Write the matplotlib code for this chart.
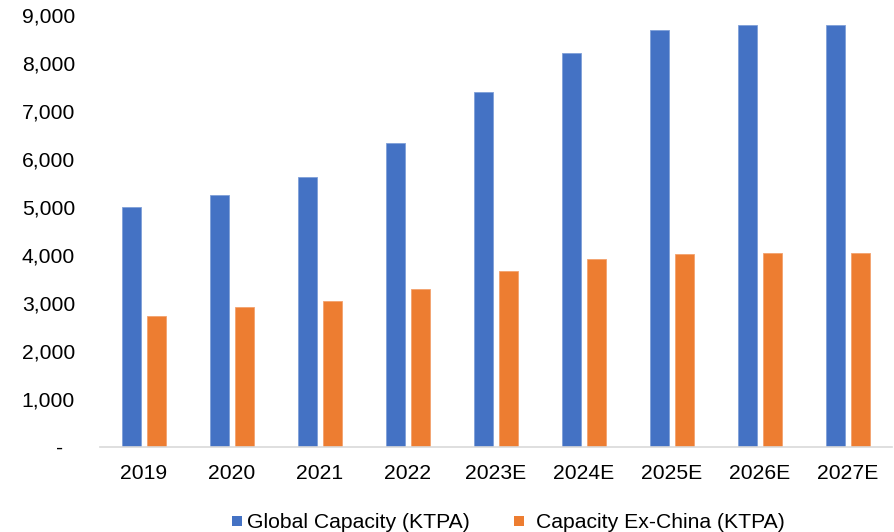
import matplotlib
matplotlib.use("Agg")
import matplotlib.pyplot as plt
from matplotlib.lines import Line2D
import numpy as np

plt.rcParams['font.family'] = ['Liberation Sans', 'DejaVu Sans']

categories = ["2019", "2020", "2021", "2022", "2023E", "2024E", "2025E", "2026E", "2027E"]
global_capacity = [5005, 5240, 5630, 6340, 7390, 8200, 8690, 8800, 8800]
ex_china_capacity = [2730, 2920, 3035, 3285, 3670, 3910, 4015, 4040, 4040]
y_ticks = [0, 1000, 2000, 3000, 4000, 5000, 6000, 7000, 8000, 9000]
y_tick_labels = ["-  ", "1,000", "2,000", "3,000", "4,000", "5,000", "6,000", "7,000", "8,000", "9,000"]
series_names = ["Global Capacity (KTPA)", "Capacity Ex-China (KTPA)"]

blue = "#4472C4"
orange = "#ED7D31"
FS = 15.2

fig = plt.figure(figsize=(8.94, 5.32), dpi=100)
ax = fig.add_axes([100 / 894, 1 - 447 / 532, 792 / 894, 432 / 532])

x = np.arange(len(categories))
w = 0.222
off = 0.143
ax.bar(x - off, global_capacity, width=w, color=blue, edgecolor="#7f9fd8", linewidth=0.6)
ax.bar(x + off, ex_china_capacity, width=w, color=orange, edgecolor="#f3a26e", linewidth=0.6)

ax.set_xlim(-0.5, len(categories) - 0.5)
ax.set_ylim(0, 9000)
ax.set_xticks(x)
ax.set_xticklabels(categories, fontsize=FS, color="black")
ax.set_yticks(y_ticks)
ax.set_yticklabels(y_tick_labels, fontsize=FS, color="black")
ax.tick_params(axis="both", length=0)
ax.tick_params(axis="y", pad=18)
ax.tick_params(axis="x", pad=12)

for s in ["top", "right", "left"]:
    ax.spines[s].set_visible(False)
ax.spines["bottom"].set_color("#d9d9d9")
ax.spines["bottom"].set_linewidth(1.2)

def handle(c):
    return Line2D([0], [0], marker="s", linestyle="none", markersize=7.6,
                  markerfacecolor=c, markeredgewidth=0)

leg1 = fig.legend([handle(blue)], [series_names[0]], loc="center left",
                  bbox_to_anchor=(231.7 / 894, 1 - 523 / 532), frameon=False, fontsize=FS,
                  handlelength=0.5, handletextpad=0.24, borderpad=0, borderaxespad=0)
leg2 = fig.legend([handle(orange)], [series_names[1]], loc="center left",
                  bbox_to_anchor=(514 / 894, 1 - 523 / 532), frameon=False, fontsize=FS,
                  handlelength=0.5, handletextpad=0.55, borderpad=0, borderaxespad=0)

fig.savefig("out.png", dpi=100)
